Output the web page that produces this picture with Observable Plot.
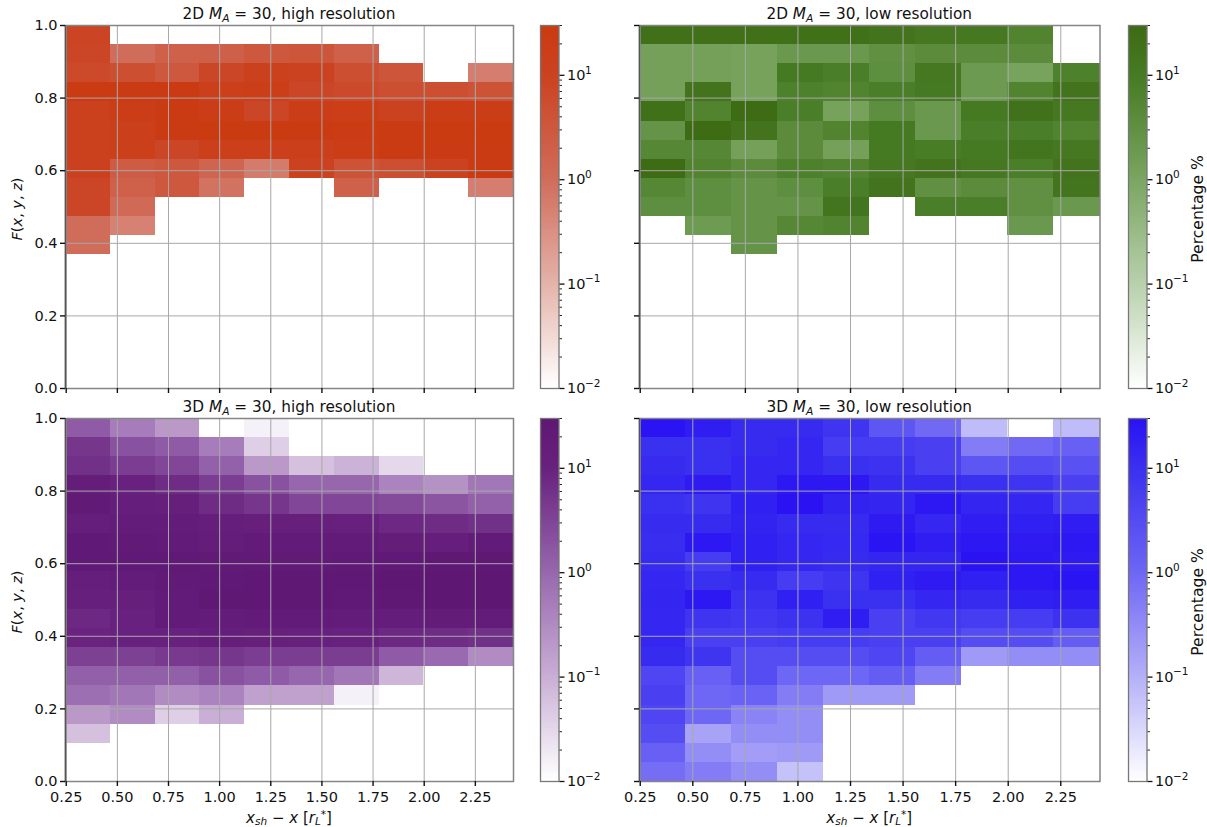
<!DOCTYPE html>
<html>
<head>
<meta charset="utf-8">
<script src="https://cdn.jsdelivr.net/npm/d3@7"></script>
<script src="https://cdn.jsdelivr.net/npm/@observablehq/plot@0.6"></script>
<style>
html,body{margin:0;padding:0;background:#fff;}
#chart{position:relative;width:1207px;height:827px;overflow:hidden;font-family:"DejaVu Sans",sans-serif;color:#111;}
.lbl{position:absolute;white-space:nowrap;line-height:1;transform:translate(-50%,-50%);}
.lbl.rot{transform:translate(-50%,-50%) rotate(-90deg);}
.lbl i{font-style:italic;}
.lbl sub{font-size:70%;vertical-align:-0.25em;line-height:0;}
.lbl sup{font-size:70%;vertical-align:0.45em;line-height:0;}
</style>
</head>
<body>
<div id="chart"></div>
<script>
const _ = null;
// bin edges
const xEdges = [0.2465,0.4655,0.6845,0.9035,1.1225,1.3415,1.5605,1.7795,1.9985,2.2175,2.4365];
const rowCount = 19;
const xTicks = [0.25,0.5,0.75,1,1.25,1.5,1.75,2,2.25];
const yTicks = [0,0.2,0.4,0.6,0.8,1];
const decades = [0.01,0.1,1,10];
const minorTicks = [0.02,0.03,0.04,0.05,0.06,0.07,0.08,0.09,0.2,0.3,0.4,0.5,0.6,0.7,0.8,0.9,2,3,4,5,6,7,8,9,20,30];
const decadeExponents = {0.01:"−2",0.1:"−1",1:"0",10:"1"};
const colorDomain = [0.01,0.1,1,10,30];
const redStops = ["#ffffff","#e4b3a9","#d06c5a","#cb4220","#cb3a10"];
const greenStops = ["#ffffff","#b8d0ac","#7aa561","#467a22","#3d6b14"];
const purpleStops = ["#ffffff","#c9aed5","#9767ae","#68217e","#5e1874"];
const blueStops = ["#ffffff","#b5b0f8","#6e66f4","#3a30f0","#2a12f3"];

// percentages, rows listed from F=1 downwards
const high2D = [
 [9,_,_,_,_,_,_,_,_,_],
 [8,1.0,1.8,2,3,3.5,1.8,_,_,_],
 [7,5,3,8,12,10,5,3.5,_,0.55],
 [25,25,25,15,18,8,7,5,5,4],
 [12,20,25,20,8,20,18,10,20,20],
 [12,15,25,28,28,25,22,25,28,28],
 [12,14,8,14,14,15,20,25,25,25],
 [11,2.5,3,1.5,0.6,10,4,5,10,25],
 [8,1.8,3,0.8,_,_,1.8,_,_,0.55],
 [8,1.2,_,_,_,_,_,_,_,_],
 [1,0.5,_,_,_,_,_,_,_,_],
 [1,_,_,_,_,_,_,_,_,_]
];
const low2D = [
 [20,20,20,20,20,15,12,12,6,_],
 [1.3,1.3,1.2,2,2,3,4,4,4,_],
 [1.3,1.3,1.2,10,8,3.5,12,1.8,1.1,7],
 [1.3,15,1.2,7,6,8,10,1.8,6,15],
 [20,6,28,8,1.2,3.5,2,10,18,12],
 [2.5,28,15,4,6,10,2,8,8,6],
 [5,5,1.3,4,1.3,10,9,10,14,12],
 [28,6,4,7,6,12,15,12,8,15],
 [5,3.5,2.5,3.5,8,15,3,4,3,14],
 [3.5,3.5,2.5,2.5,14,_,8,8,3,2],
 [_,1.7,2.5,5,6,_,_,_,2,_],
 [_,_,2.5,_,_,_,_,_,_,_]
];
const high3D = [
 [1.5,0.5,0.2,_,0.015,_,_,_,_,_],
 [5,2,1.5,0.5,0.04,_,_,_,_,_],
 [6,4,3,1.2,0.2,0.06,0.09,0.03,_,_],
 [15,10,7,4,2,1,1,0.4,0.25,0.6],
 [22,14,12,7,5,3,3,2.5,1.8,1.2],
 [14,18,18,14,12,12,11,8,7,6],
 [25,22,20,15,20,20,20,15,14,20],
 [25,25,25,22,22,22,25,25,28,28],
 [14,18,22,25,28,28,28,30,30,30],
 [13,12,20,28,28,28,25,28,30,30],
 [8,10,20,18,20,20,18,16,17,18],
 [9,10,10,14,12,11,10,8,7,6],
 [3.5,3.5,4.5,5,4,4,4,1.5,0.9,0.3],
 [1.3,1.3,1.3,2,1.5,1,0.6,0.08,_,_],
 [0.8,0.6,0.3,0.4,0.15,0.15,0.015,_,_,_],
 [0.2,0.3,0.04,0.1,_,_,_,_,_,_],
 [0.06,_,_,_,_,_,_,_,_,_]
];
const low3D = [
 [28,20,12,12,8,2,0.9,0.07,_,0.07],
 [10,10,12,14,6,6,5,0.5,0.9,1.3],
 [12,10,14,14,10,9,5,2,3,2.5],
 [14,22,14,25,25,12,12,10,8,5],
 [10,8,18,30,16,15,25,15,14,6],
 [12,12,16,12,12,22,14,20,18,20],
 [11,25,18,14,13,28,20,25,22,25],
 [12,6,18,14,12,15,15,30,25,22],
 [14,10,12,6,8,18,22,18,25,28],
 [15,25,9,18,10,10,14,12,18,20],
 [14,8,7,9,20,5,7,6,6,9],
 [14,5,5,6,6,5,5,3,3,1.5],
 [12,8,3,3,3,4,1.5,0.2,0.3,0.3],
 [4,1.3,3,1,1,1.5,0.5,_,_,_],
 [5,1,1.2,0.5,0.2,0.2,_,_,_,_],
 [4,1,0.4,0.3,_,_,_,_,_,_],
 [3,0.15,0.3,0.3,_,_,_,_,_,_],
 [1.3,0.3,0.18,0.2,_,_,_,_,_,_],
 [0.8,0.5,0.3,0.06,_,_,_,_,_,_]
];

const panels = [
 {dim:"2D",res:"high",values:high2D,stops:redStops,left:65,right:513,top:25,bottom:388,cbar:540,showX:false,showY:true,pct:false},
 {dim:"2D",res:"low",values:low2D,stops:greenStops,left:639,right:1099.5,top:25,bottom:388,cbar:1128,showX:false,showY:false,pct:true},
 {dim:"3D",res:"high",values:high3D,stops:purpleStops,left:65,right:513,top:418,bottom:781,cbar:540,showX:true,showY:true,pct:false},
 {dim:"3D",res:"low",values:low3D,stops:blueStops,left:639,right:1099.5,top:418,bottom:781,cbar:1128,showX:true,showY:false,pct:true}
];

const chart = document.getElementById("chart");
const font = {fontFamily:"'DejaVu Sans',sans-serif",fontSize:"14.5px",color:"#111",background:"transparent",overflow:"visible"};

function label(html,x,y,size,rot){
  const d=document.createElement("div");
  d.className="lbl"+(rot?" rot":"");
  d.innerHTML=html;
  d.style.left=x+"px";d.style.top=y+"px";d.style.fontSize=size+"px";
  chart.appendChild(d);
}

panels.forEach(p=>{
  const colorOpts={type:"log",domain:colorDomain,range:p.stops,interpolate:"rgb"};
  const cells=[];
  p.values.forEach((row,r)=>row.forEach((v,c)=>{
    if(v!==null) cells.push({x1:xEdges[c],x2:xEdges[c+1],y1:1-(r+1)/rowCount,y2:1-r/rowCount,v});
  }));
  const mL=45,mR=10,mT=10,mB=30;
  const w=p.right-p.left, h=p.bottom-p.top;
  const svg=Plot.plot({
    width:w+mL+mR,height:h+mT+mB,marginLeft:mL,marginRight:mR,marginTop:mT,marginBottom:mB,
    style:font,
    x:{domain:[xEdges[0],xEdges[10]],axis:null},
    y:{domain:[0,1],axis:null},
    color:colorOpts,
    marks:[
      Plot.rect(cells,{x1:"x1",x2:"x2",y1:"y1",y2:"y2",fill:"v",shapeRendering:"crispEdges"}),
      Plot.gridX(xTicks,{stroke:"#a8a8a8",strokeOpacity:1,strokeWidth:1}),
      Plot.gridY(yTicks,{stroke:"#a8a8a8",strokeOpacity:1,strokeWidth:1}),
      Plot.frame({stroke:"#858585",strokeWidth:1.5}),
      Plot.ruleX([xEdges[0]],{stroke:"#555",strokeWidth:1.5}),
      Plot.axisX(xTicks,{anchor:"bottom",label:null,tickSize:5,tickPadding:5,strokeWidth:1.4,stroke:"#111",
        tickFormat:p.showX?(d=>d3.format(".2f")(d)):(()=>"")}),
      Plot.axisY(yTicks,{anchor:"left",label:null,tickSize:5,tickPadding:3,strokeWidth:1.4,stroke:"#111",
        tickFormat:p.showY?(d=>d3.format(".1f")(d)):(()=>"")})
    ]
  });
  svg.style.position="absolute";
  svg.style.left=(p.left-mL)+"px";
  svg.style.top=(p.top-mT)+"px";
  chart.appendChild(svg);

  // colour bar
  const n=240, lo=Math.log10(0.01), hi=Math.log10(30);
  const strip=d3.range(n).map(i=>({y1:10**(lo+(hi-lo)*i/n),y2:10**(lo+(hi-lo)*(i+1)/n)}));
  const cW=18.5,cL=6,cR=60;
  const bar=Plot.plot({
    width:cW+cL+cR,height:h+mT+mB,marginLeft:cL,marginRight:cR,marginTop:mT,marginBottom:mB,
    style:font,
    x:{domain:[0,1],axis:null},
    y:{type:"log",domain:[0.01,30],axis:null},
    color:colorOpts,
    marks:[
      Plot.rect(strip,{x1:0,x2:1,y1:"y1",y2:"y2",fill:d=>Math.sqrt(d.y1*d.y2),shapeRendering:"crispEdges"}),
      Plot.frame({stroke:"#777",strokeWidth:1.3}),
      Plot.axisY(minorTicks,{anchor:"right",label:null,tickSize:2.5,strokeWidth:0.9,stroke:"#111",tickFormat:()=>""}),
      Plot.axisY(decades,{anchor:"right",label:null,tickSize:5,strokeWidth:1.3,stroke:"#111",tickFormat:()=>""}),
      Plot.text(decades,{x:1,y:d=>d,text:()=>"10",dx:8,textAnchor:"start",fontSize:14.5,fill:"#111"}),
      Plot.text(decades,{x:1,y:d=>d,text:d=>decadeExponents[d],dx:26,dy:-5,textAnchor:"start",fontSize:10.5,fill:"#111"})
    ]
  });
  bar.style.position="absolute";
  bar.style.left=(p.cbar-cL)+"px";
  bar.style.top=(p.top-mT)+"px";
  chart.appendChild(bar);

  const cx=(p.left+p.right)/2, cy=(p.top+p.bottom)/2;
  label(`${p.dim} <i>M<sub>A</sub></i> = 30, ${p.res} resolution`,cx,p.top-10.5,15.3);
  if(p.showY) label(`<i>F</i>(<i>x</i>, <i>y</i>, <i>z</i>)`,17,cy+2,14.5,true);
  if(p.showX) label(`<i>x<sub>sh</sub></i> − <i>x</i> [<i>r<sub>L</sub><sup>*</sup></i>]`,cx,818,15);
  if(p.pct) label("Percentage %",1199,cy+2,15.6,true);
});
</script>
</body>
</html>
